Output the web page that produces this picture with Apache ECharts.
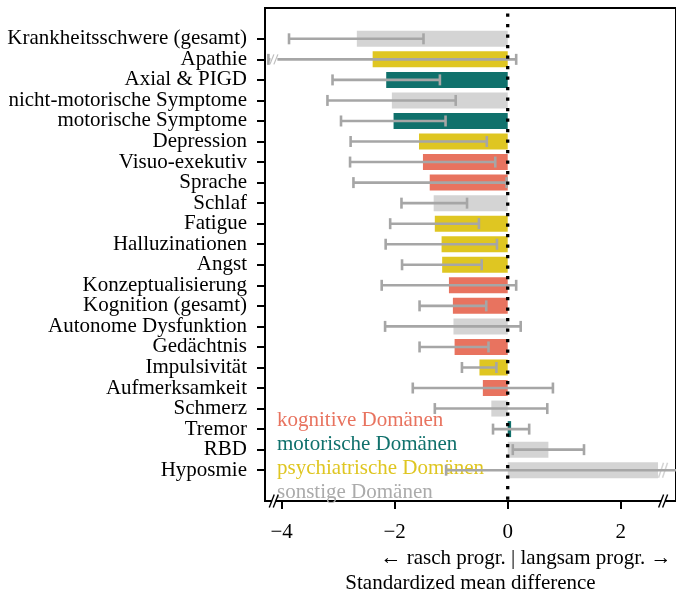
<!DOCTYPE html>
<html><head><meta charset="utf-8">
<script src="https://cdn.jsdelivr.net/npm/echarts@6/dist/echarts.min.js"></script>
<style>html,body{margin:0;padding:0;background:#fff}#c{width:676px;height:599px}</style>
</head><body><div id="c"></div>
<script>
const categories = ['Krankheitsschwere (gesamt)','Apathie','Axial & PIGD','nicht-motorische Symptome','motorische Symptome','Depression','Visuo-exekutiv','Sprache','Schlaf','Fatigue','Halluzinationen','Angst','Konzeptualisierung','Kognition (gesamt)','Autonome Dysfunktion','Gedächtnis','Impulsivität','Aufmerksamkeit','Schmerz','Tremor','RBD','Hyposmie'];
const domains = ['son','psy','mot','son','mot','psy','kog','kog','son','psy','psy','psy','kog','kog','son','kog','psy','kog','son','mot','son','son'];
const smd = [-2.67,-2.39,-2.15,-2.05,-2.02,-1.57,-1.50,-1.38,-1.31,-1.29,-1.17,-1.16,-1.04,-0.97,-0.96,-0.94,-0.50,-0.44,-0.29,0.06,0.72,2.66];
const ciLow = [-3.87,-4.93,-3.10,-3.19,-2.95,-2.78,-2.79,-2.73,-1.88,-2.08,-2.16,-1.87,-2.23,-1.56,-2.17,-1.56,-0.81,-1.68,-1.29,-0.26,0.09,-1.09];
const ciHigh = [-1.49,0.15,-1.20,-0.92,-1.10,-0.37,-0.22,-0.02,-0.72,-0.51,-0.19,-0.46,0.15,-0.38,0.23,-0.34,-0.20,0.80,0.70,0.38,1.35,6.41];
const domainKeys = ['kog','mot','psy','son'];
const domainNames = ['kognitive Domänen','motorische Domänen','psychiatrische Domänen','sonstige Domänen'];
const domainColors = ['#E8735F','#10716C','#DFC622','#D4D4D4'];
const legendColors = ['#E8735F','#10716C','#DFC622','#ABABAB'];
const xTicks = [-4,-2,0,2];
const X_MIN = -4.295, X_MAX = 2.978;
const axisBreaks = [-4.14, 2.75];
const FONT = 'Liberation Serif';
const FS = 21;

const yCats = [' '].concat(categories, ['  ']);
const chart = echarts.init(document.getElementById('c'), null, {renderer:'canvas'});

function slashes(cx, cy, color, w, h, lw) {
  return [-2, 2].map(d => ({type:'line',
    shape:{x1:cx + d - w, y1:cy + h, x2:cx + d + w, y2:cy - h},
    style:{stroke:color, lineWidth:lw}}));
}

const barSeries = domainKeys.map((k, di) => ({
  type:'bar', name:domainNames[di], stack:'s', barWidth:16, z:2,
  itemStyle:{color:domainColors[di]},
  data:['-'].concat(categories.map((c,i) => domains[i] === k ? smd[i] : '-'), ['-'])
}));

const errSeries = {
  type:'custom', z:4, silent:true,
  encode:{x:[1,2], y:0},
  data:categories.map((c,i) => [i+1, ciLow[i], ciHigh[i], smd[i]]),
  renderItem(params, api) {
    const idx = api.value(0), lo = api.value(1), hi = api.value(2), v = api.value(3);
    const loC = Math.max(lo, X_MIN + 0.06), hiC = Math.min(hi, X_MAX);
    const p1 = api.coord([loC, idx]), p2 = api.coord([hiC, idx]);
    const col = '#A6A6A6', cap = 5.5, lw = 2.6;
    const ch = [];
    if (idx === categories.length) {
      const pb = api.coord([v, idx]);
      ch.push({type:'rect', shape:{x:pb[0] + 1, y:pb[1] - 8, width:9, height:16}, style:{fill:'#FFFFFF'}});
      slashes(pb[0] + 5, pb[1], '#D4D4D4', 2.5, 7.5, 1.5).forEach(s => ch.push(s));
    }
    ch.push({type:'line', shape:{x1:p1[0], y1:p1[1], x2:p2[0], y2:p2[1]}, style:{stroke:col, lineWidth:lw}});
    ch.push({type:'line', shape:{x1:p1[0], y1:p1[1]-cap, x2:p1[0], y2:p1[1]+cap}, style:{stroke:col, lineWidth:lw}});
    if (hi <= X_MAX) ch.push({type:'line', shape:{x1:p2[0], y1:p2[1]-cap, x2:p2[0], y2:p2[1]+cap}, style:{stroke:col, lineWidth:lw}});
    if (lo < X_MIN) {
      ch.push({type:'rect', shape:{x:p1[0] + 2, y:p1[1] - 2, width:7, height:4}, style:{fill:'#FFFFFF'}});
      slashes(p1[0] + 5.5, p1[1], '#BDBDBD', 2, 5, 1.2).forEach(s => ch.push(s));
    }
    return {type:'group', children:ch};
  }
};

const breakSeries = {
  type:'custom', z:6, silent:true,
  encode:{x:0, y:1},
  data:axisBreaks.map(b => [b, yCats.length - 1]),
  renderItem(params, api) {
    const p = api.coord([api.value(0), api.value(1)]);
    const half = api.size([0, 1])[1] / 2;
    const y = p[1] + half;
    return {type:'group', children:[
      {type:'rect', shape:{x:p[0] - 2, y:y - 1.5, width:4, height:3}, style:{fill:'#FFFFFF'}}
    ].concat(slashes(p[0], y, '#000', 2.5, 6.5, 1.4))};
  }
};

const zeroSeries = {
  type:'custom', z:10, silent:true,
  encode:{x:0, y:1},
  data:[[0, 0]],
  renderItem(params, api) {
    const half = api.size([0, 1])[1] / 2;
    const pTop = api.coord([api.value(0), 0]);
    const pBot = api.coord([api.value(0), yCats.length - 1]);
    return {type:'line', shape:{x1:pTop[0], y1:pTop[1] - half + 5.5, x2:pBot[0], y2:pBot[1] + half},
      style:{stroke:'#000', lineWidth:3.3, lineDash:[3.3, 7.2], lineCap:'butt'}};
  }
};

chart.setOption({
  animation:false,
  grid:{left:265, top:8, width:416, height:498, show:true, borderColor:'#000', borderWidth:2, backgroundColor:'transparent'},
  legend:{orient:'vertical', left:267, top:405, itemWidth:0, itemHeight:0, itemGap:3, selectedMode:false,
    data:domainNames.map((n,i) => ({name:n, textStyle:{color:legendColors[i]}})),
    textStyle:{fontFamily:FONT, fontSize:FS}},
  xAxis:{type:'value', min:X_MIN, max:X_MAX,
    axisLine:{show:true, onZero:false, lineStyle:{color:'#000', width:2}},
    splitLine:{show:false},
    axisTick:{show:true, length:8, lineStyle:{color:'#000', width:2}, customValues:xTicks},
    axisLabel:{customValues:xTicks, fontFamily:FONT, fontSize:FS, color:'#000', margin:21,
      formatter:v => (v < 0 ? '\u2212' + Math.abs(v) : String(v))},
    name:'Standardized mean difference', nameLocation:'middle', nameGap:72,
    nameTextStyle:{fontFamily:FONT, fontSize:FS, color:'#000'}},
  yAxis:{type:'category', inverse:true, data:yCats,
    axisLine:{show:true, onZero:false, lineStyle:{color:'#000', width:2}},
    axisTick:{show:true, alignWithLabel:true, length:8, lineStyle:{color:'#000', width:2},
      interval:(i, v) => v.trim() !== ''},
    axisLabel:{interval:0, fontFamily:FONT, fontSize:FS, color:'#000', margin:18}},
  graphic:[{type:'text', x:526, y:558, silent:true,
    style:{text:'\u2190 rasch progr. | langsam progr. \u2192', fontFamily:FONT, fontSize:FS, fill:'#000',
      align:'center', verticalAlign:'middle', textAlign:'center', textVerticalAlign:'middle'}}],
  series:barSeries.concat([errSeries, breakSeries, zeroSeries])
});
</script></body></html>
